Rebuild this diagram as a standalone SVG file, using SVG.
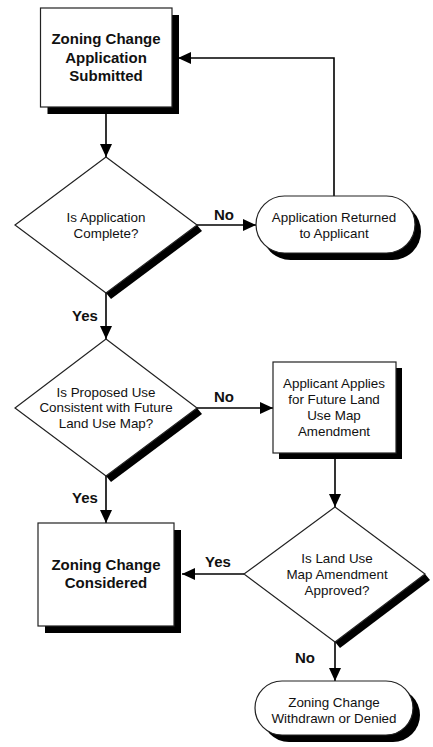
<svg xmlns="http://www.w3.org/2000/svg" width="433" height="747" viewBox="0 0 433 747">
<style>
.shape{fill:#fff;stroke:#222;stroke-width:1.2}
.shadow{fill:#000;stroke:none}
.t{font-family:"Liberation Sans",Arial,sans-serif;font-size:13.4px;fill:#111;text-anchor:middle}
.tb{font-family:"Liberation Sans",Arial,sans-serif;font-size:15px;font-weight:bold;fill:#111;text-anchor:middle}
.lb{font-family:"Liberation Sans",Arial,sans-serif;font-size:15px;font-weight:bold;fill:#111;text-anchor:middle}
.c{fill:none;stroke:#000;stroke-width:1.6;marker-end:url(#ah)}
</style>
<defs>
<marker id="ah" markerUnits="userSpaceOnUse" markerWidth="14" markerHeight="12" refX="13" refY="6" orient="auto">
<path d="M0,0 L13,6 L0,12 z" fill="#000"/>
</marker>
</defs>
<rect width="433" height="747" fill="#fff"/>

<g id="connectors">
<path class="c" d="M106,107 V157"/>
<path class="c" d="M197,225 H256"/>
<path class="c" d="M334,196 V58 H178"/>
<path class="c" d="M106,293 V339"/>
<path class="c" d="M197,408 H273"/>
<path class="c" d="M106,476 V523"/>
<path class="c" d="M335,458 V507"/>
<path class="c" d="M244,574 H182"/>
<path class="c" d="M335,642 V681"/>
<text class="lb" x="224" y="220">No</text>
<text class="lb" x="85" y="321">Yes</text>
<text class="lb" x="224" y="402">No</text>
<text class="lb" x="85" y="503">Yes</text>
<text class="lb" x="218" y="567">Yes</text>
<text class="lb" x="305" y="663">No</text>
</g>

<g id="submitted">
<rect class="shadow" x="47.5" y="15" width="131.5" height="99"/>
<rect class="shape" x="40.5" y="8" width="131.5" height="99"/>
<text class="tb" x="106" y="44">Zoning Change</text>
<text class="tb" x="106" y="63">Application</text>
<text class="tb" x="106" y="81">Submitted</text>
</g>

<g id="complete">
<polygon class="shadow" points="106,293 197,225 202,231 111,299"/>
<polygon class="shape" points="106,157 197,225 106,293 15,225"/>
<text class="t" x="106" y="222">Is Application</text>
<text class="t" x="106" y="238">Complete?</text>
</g>

<g id="returned">
<rect class="shadow" x="262" y="203" width="159" height="57" rx="28.5"/>
<rect class="shape" x="256" y="196" width="159" height="57" rx="28.5"/>
<text class="t" x="334" y="222">Application Returned</text>
<text class="t" x="334" y="238">to Applicant</text>
</g>

<g id="consistent">
<polygon class="shadow" points="106,476 197,408 202,414 111,482"/>
<polygon class="shape" points="106,339 197,408 106,476 15,408"/>
<text class="t" x="106" y="397">Is Proposed Use</text>
<text class="t" x="106" y="412">Consistent with Future</text>
<text class="t" x="106" y="428">Land Use Map?</text>
</g>

<g id="applies">
<rect class="shadow" x="279" y="368" width="123" height="91"/>
<rect class="shape" x="273" y="362" width="123" height="91"/>
<text class="t" x="334" y="388">Applicant Applies</text>
<text class="t" x="334" y="404">for Future Land</text>
<text class="t" x="334" y="420">Use Map</text>
<text class="t" x="334" y="436">Amendment</text>
</g>

<g id="approved">
<polygon class="shadow" points="335,642 425,574 430,580 340,648"/>
<polygon class="shape" points="335,507 425,574 335,642 244,574"/>
<text class="t" x="337" y="563">Is Land Use</text>
<text class="t" x="337" y="579">Map Amendment</text>
<text class="t" x="337" y="595">Approved?</text>
</g>

<g id="considered">
<rect class="shadow" x="45" y="530" width="136" height="103"/>
<rect class="shape" x="38" y="523" width="136" height="103"/>
<text class="tb" x="106" y="570">Zoning Change</text>
<text class="tb" x="106" y="588">Considered</text>
</g>

<g id="withdrawn">
<rect class="shadow" x="262" y="688" width="158" height="54" rx="27"/>
<rect class="shape" x="255" y="681" width="158" height="54" rx="27"/>
<text class="t" x="334" y="707">Zoning Change</text>
<text class="t" x="334" y="723">Withdrawn or Denied</text>
</g>
</svg>
